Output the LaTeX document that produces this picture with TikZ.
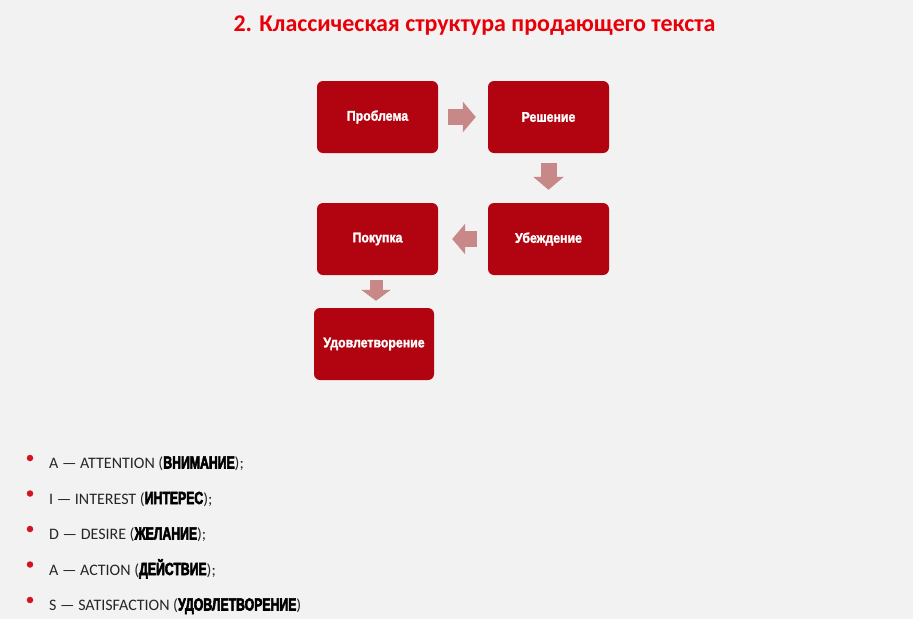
\documentclass[tikz,border=0pt]{standalone}
\usepackage{fontspec}
\setmainfont{Carlito}
\newfontfamily\boxfont[FakeStretch=0.88,FakeBold=1.6]{Liberation Sans Bold}
\newfontfamily\wordfont[FakeStretch=0.7,FakeBold=3]{Liberation Sans Bold}
\usetikzlibrary{arrows.meta}
\usetikzlibrary{positioning}
\definecolor{bgpaper}{RGB}{242,242,242}
\definecolor{boxred}{RGB}{178,4,16}
\definecolor{titlered}{RGB}{232,0,8}
\definecolor{dotred}{RGB}{210,20,30}
\definecolor{arrowpink}{RGB}{200,136,136}
\tikzset{
	block/.style={rectangle, rounded corners=6pt, fill=boxred, text=white,
		minimum width=121pt, minimum height=72pt, inner sep=0pt,
		font=\boxfont\fontsize{14}{16}\selectfont},
	blockarrow/.style={draw=arrowpink, line width=16pt,
		-{Triangle[length=13pt,width=30pt]}},
	smallarrow/.style={draw=arrowpink, line width=13pt,
		-{Triangle[length=11pt,width=29pt]}},
	bulletdot/.style={circle, fill=dotred, inner sep=0pt, minimum size=6.5pt},
	itemtext/.style={anchor=base west, inner sep=0pt, text=black!85,
		font=\fontsize{16}{19}\selectfont},
}
\newcommand{\cyrword}[1]{{\color{black}\wordfont\fontsize{17.5}{19}\selectfont #1}}

\begin{document}
\begin{tikzpicture}[x=1pt,y=-1pt]
			\fill [bgpaper] (0,0) rectangle (913,619);
			\useasboundingbox (0,0) rectangle (913,619);
			% Title
			\node [anchor=base, inner sep=0pt, text=titlered,
				font=\bfseries\fontsize{24}{27}\selectfont] (title) at (474.5,31)
				{2. Классическая структура продающего текста};
			% Boxes
			\node [block] (problem) at (377.5,117) {Проблема};
			\node [block] (solution) at (548.5,117) {Решение};
			\node [block] (persuasion) at (548.5,239) {Убеждение};
			\node [block] (purchase) at (377.5,239) {Покупка};
			\node [block, minimum width=120pt] (satisfaction) at (374,344) {Удовлетворение};
			% Arrows
			\draw [blockarrow, shorten <=10pt, shorten >=12pt] (problem) -- (solution);
			\draw [blockarrow, shorten <=10pt, shorten >=13pt] (solution) -- (persuasion);
			\draw [blockarrow, shorten <=11pt, shorten >=14pt] (persuasion) -- (purchase);
			\draw [smallarrow, shorten <=5pt, shorten >=7pt]
				([xshift=-1.5pt]purchase.south) -- ([xshift=2pt]satisfaction.north);
			% AIDAS list
			\node [bulletdot] (dot1) at (30,458) {};
			\node [itemtext] (item1) at (49,468.5) {A — ATTENTION (\cyrword{ВНИМАНИЕ});};
			\node [bulletdot] (dot2) at (30,493.5) {};
			\node [itemtext] (item2) at (49,504) {I — INTEREST (\cyrword{ИНТЕРЕС});};
			\node [bulletdot] (dot3) at (30,529) {};
			\node [itemtext] (item3) at (49,539.5) {D — DESIRE (\cyrword{ЖЕЛАНИЕ});};
			\node [bulletdot] (dot4) at (30,564.5) {};
			\node [itemtext] (item4) at (49,575) {A — ACTION (\cyrword{ДЕЙСТВИЕ});};
			\node [bulletdot] (dot5) at (30,600) {};
			\node [itemtext] (item5) at (49,610.5) {S — SATISFACTION (\cyrword{УДОВЛЕТВОРЕНИЕ})};
		\end{tikzpicture}
\end{document}
